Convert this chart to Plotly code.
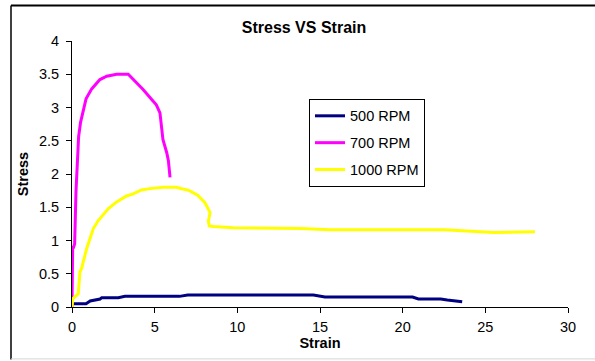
import plotly.graph_objects as go

# Data
strain_500 = [0.08, 0.85, 1.1, 1.4, 1.7, 1.8, 2.8, 3.2, 6.5, 7.0, 14.6, 15.3, 20.6, 20.95, 22.3, 22.7, 23.6]
stress_500 = [0.05, 0.05, 0.09, 0.11, 0.12, 0.14, 0.14, 0.16, 0.16, 0.18, 0.18, 0.15, 0.15, 0.12, 0.12, 0.105, 0.08]

strain_700 = [0, 0.04, 0.1, 0.16, 0.24, 0.40, 0.52, 0.85, 1.19, 1.69, 2.1, 2.7, 3.4, 3.81, 4.3,
              4.82, 5.1, 5.32, 5.5, 5.73, 5.83, 5.93]
stress_700 = [0, 0.9, 0.9, 0.95, 1.73, 2.56, 2.78, 3.13, 3.28, 3.42, 3.47, 3.50, 3.50, 3.40, 3.27,
              3.12, 3.04, 2.92, 2.52, 2.32, 2.2, 1.95]

strain_1000 = [0, 0.04, 0.38, 0.48, 0.58, 0.89, 1.29, 1.59, 2.2, 2.7, 3.3, 3.7, 4.2, 4.7, 5.5, 6.3,
               7.1, 7.6, 8.04, 8.35, 8.25, 8.3, 8.55, 9.76, 13.8, 15.6, 22.5, 25.5, 28.0]
stress_1000 = [0, 0.12, 0.2, 0.53, 0.58, 0.88, 1.18, 1.30, 1.48, 1.58, 1.67, 1.70, 1.76, 1.78, 1.80, 1.80,
               1.75, 1.68, 1.57, 1.42, 1.29, 1.22, 1.21, 1.19, 1.18, 1.16, 1.16, 1.12, 1.13]

series_names = ["500 RPM", "700 RPM", "1000 RPM"]
colors = ["#000080", "#FF00FF", "#FFFF00"]

x_ticks = [0, 5, 10, 15, 20, 25, 30]
y_ticks = [0, 0.5, 1, 1.5, 2, 2.5, 3, 3.5, 4]
y_tick_labels = ["0", "0.5", "1", "1.5", "2", "2.5", "3", "3.5", "4"]

fig = go.Figure()
for name, xs, ys, c in zip(series_names,
                           [strain_500, strain_700, strain_1000],
                           [stress_500, stress_700, stress_1000],
                           colors):
    fig.add_trace(go.Scatter(x=xs, y=ys, mode="lines", name=name, legendgroup=name,
                             line=dict(color=c, width=3), line_shape="linear"))

W, H = 595, 361
L, R, T, B = 72, 27, 41, 53.5
pw, ph = W - L - R, H - T - B

def px(x):
    return (x - L) / pw

def py(y):
    return (H - B - y) / ph

fig.update_layout(
    width=W, height=H,
    margin=dict(l=L, r=R, t=T, b=B, pad=0),
    paper_bgcolor="white", plot_bgcolor="white",
    font=dict(family="Arial, Liberation Sans, sans-serif", size=14, color="black"),
    title=dict(text="<b>Stress VS Strain</b>", x=px(304), xref="paper", xanchor="center",
               y=1 - 27 / H, yanchor="middle", font=dict(size=16, color="black")),
    showlegend=True,
    legend=dict(x=px(309), y=py(99), xanchor="left", yanchor="top",
                bgcolor="white", bordercolor="black", borderwidth=1,
                font=dict(size=14.5, color="black"), tracegroupgap=5,
                itemwidth=30),
    xaxis=dict(range=[0, 30], tickvals=x_ticks, ticks="outside", ticklen=5, tickcolor="black",
               showline=True, linecolor="black", linewidth=1, showgrid=False, zeroline=False,
               title=dict(text="<b>Strain</b>", font=dict(size=14.5), standoff=3),
               tickfont=dict(size=14.5), ticklabelstandoff=2),
    yaxis=dict(range=[0, 4], tickvals=y_ticks, ticktext=y_tick_labels, ticks="outside", ticklen=5,
               tickcolor="black", showline=True, linecolor="black", linewidth=1, showgrid=False,
               zeroline=False, title=dict(text="<b>Stress</b>", font=dict(size=14.5), standoff=6),
               tickfont=dict(size=14.5), ticklabelstandoff=4),
    shapes=[
        dict(type="line", xref="paper", yref="paper", x0=px(11), x1=px(600), y0=py(5.5), y1=py(5.5),
             line=dict(color="black", width=2)),
        dict(type="line", xref="paper", yref="paper", x0=px(11), x1=px(11), y0=py(5.5), y1=py(360),
             line=dict(color="black", width=1.5)),
        dict(type="line", xref="paper", yref="paper", x0=px(11), x1=px(600), y0=py(359.5), y1=py(359.5),
             line=dict(color="#d4d4d4", width=1)),
    ],
)

fig.write_html("out.html")
